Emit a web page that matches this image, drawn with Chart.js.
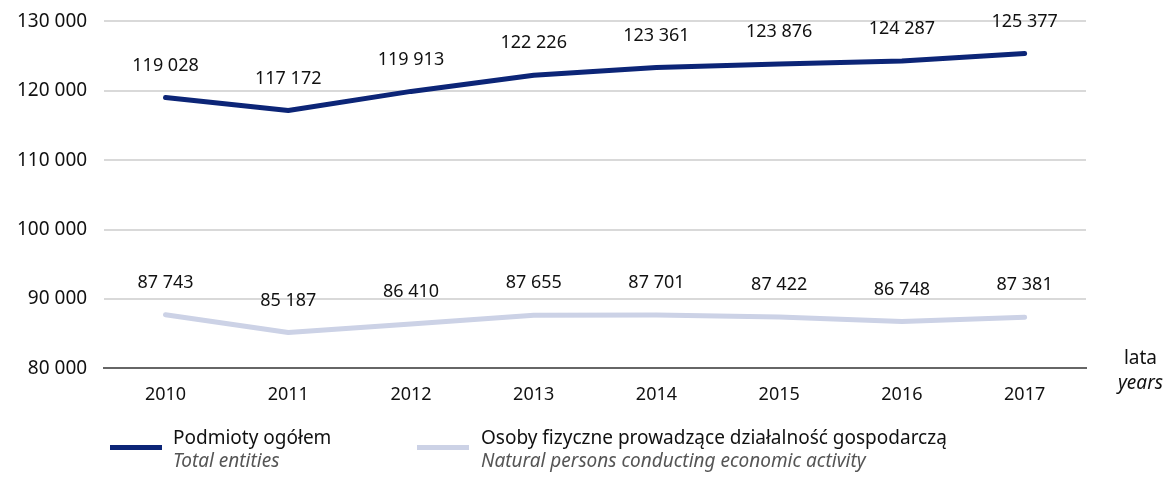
<!DOCTYPE html>
<html>
<head>
<meta charset="utf-8">
<title>Podmioty</title>
<script src="https://cdn.jsdelivr.net/npm/chart.js"></script>
<style>
  body { margin: 0; background: #fff; font-family: "Noto Sans", sans-serif; }
  #wrap { position: relative; width: 1172px; height: 497px; overflow: hidden; }
  #chart { position: absolute; left: 0; top: -7px; }
  .unit { position: absolute; left: 1118px; top: 345px; font-size: 19px; color: #111; line-height: 25px; text-align: center; }
  .leg { position: absolute; top: 426px; font-size: 19px; line-height: 23px; color: #111; }
  .leg i { color: #555; }
  .swatch { position: absolute; top: 445px; height: 5px; width: 52px; }
</style>
</head>
<body>
<div id="wrap">
  <canvas id="chart" width="1172" height="504"></canvas>
  <div class="unit">lata<br><i>years</i></div>
  <div class="swatch" style="left:110px;background:#0c2577"></div>
  <div class="leg" style="left:173px">Podmioty ogółem<br><i>Total entities</i></div>
  <div class="swatch" style="left:417px;background:#ccd2e6"></div>
  <div class="leg" style="left:481px">Osoby fizyczne prowadzące działalność gospodarczą<br><i>Natural persons conducting economic activity</i></div>
</div>

<script>
  const years = ['2010', '2011', '2012', '2013', '2014', '2015', '2016', '2017'];
  const totalEntities = [119028, 117172, 119913, 122226, 123361, 123876, 124287, 125377];
  const naturalPersons = [87743, 85187, 86410, 87655, 87701, 87422, 86748, 87381];
  const yTicks = [80000, 90000, 100000, 110000, 120000, 130000];

  const fmt = v => String(v).replace(/\B(?=(\d{3})+(?!\d))/g, ' ');

  // value labels above each point
  const pointLabels = {
    id: 'pointLabels',
    afterDatasetsDraw(chart) {
      const ctx = chart.ctx;
      ctx.save();
      ctx.font = '18px "Noto Sans"';
      ctx.fillStyle = '#111';
      ctx.textAlign = 'center';
      ctx.textBaseline = 'middle';
      chart.data.datasets.forEach((ds, i) => {
        chart.getDatasetMeta(i).data.forEach((pt, j) => {
          ctx.fillText(fmt(ds.data[j]), pt.x, pt.y - 32);
        });
      });
      ctx.restore();
    }
  };

  new Chart(document.getElementById('chart'), {
    type: 'line',
    data: {
      labels: years,
      datasets: [
        { label: 'Podmioty ogółem', data: totalEntities, borderColor: '#0c2577', borderWidth: 5 },
        { label: 'Osoby fizyczne', data: naturalPersons, borderColor: '#ccd2e6', borderWidth: 5 }
      ]
    },
    options: {
      responsive: false,
      animation: false,
      elements: { point: { radius: 0 }, line: { tension: 0, borderCapStyle: 'round', borderJoinStyle: 'round' } },
      layout: { padding: { left: 0, right: 86, top: 0, bottom: 83 } },
      plugins: { legend: { display: false }, tooltip: { enabled: false } },
      scales: {
        x: {
          offset: true,
          grid: { display: false },
          border: { display: true, color: '#666', width: 2 },
          ticks: { color: '#111', font: { size: 18, family: 'Noto Sans' }, padding: 8 }
        },
        y: {
          min: 80000,
          max: 130000,
          afterBuildTicks: axis => { axis.ticks = yTicks.map(v => ({ value: v })); },
          grid: { color: '#d9d9d9', lineWidth: 2, drawTicks: false },
          border: { display: false },
          ticks: { color: '#111', font: { size: 19, family: 'Noto Sans' }, padding: 17, callback: v => fmt(v) }
        }
      }
    },
    plugins: [pointLabels]
  });
</script>
</body>
</html>
